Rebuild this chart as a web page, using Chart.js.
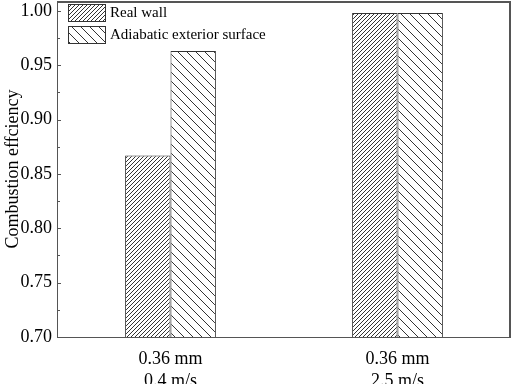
<!DOCTYPE html>
<html>
<head>
<meta charset="utf-8">
<script src="https://cdn.jsdelivr.net/npm/chart.js@4/dist/chart.umd.min.js"></script>
<style>
html,body{margin:0;padding:0;background:#fff;}
#wrap{width:512px;height:384px;position:relative;}
</style>
</head>
<body>
<div id="wrap"><canvas id="c" width="512" height="384"></canvas></div>
<script>
const categories = [['0.36 mm', '0.4 m/s'], ['0.36 mm', '2.5 m/s']];
const seriesNames = ['Real wall', 'Adiabatic exterior surface'];
const realWall = [0.867, 0.998];
const adiabatic = [0.963, 0.998];
const yMajorTicks = [0.70, 0.75, 0.80, 0.85, 0.90, 0.95, 1.00];
const yTitle = 'Combustion effciency';

Chart.defaults.font.family = "'Liberation Serif', 'DejaVu Serif', serif";
Chart.defaults.color = '#000';

function makeHatch(size, dir, lw, color) {
  const c = document.createElement('canvas');
  c.width = size; c.height = size;
  const g = c.getContext('2d');
  g.fillStyle = '#fff';
  g.fillRect(0, 0, size, size);
  g.strokeStyle = color;
  g.lineWidth = lw;
  g.beginPath();
  if (dir === '/') {
    g.moveTo(-1, size + 1); g.lineTo(size + 1, -1);
    g.moveTo(-1, 1); g.lineTo(1, -1);
    g.moveTo(size - 1, size + 1); g.lineTo(size + 1, size - 1);
  } else {
    g.moveTo(-1, -1); g.lineTo(size + 1, size + 1);
    g.moveTo(size - 1, -1); g.lineTo(size + 1, 1);
    g.moveTo(-1, size - 1); g.lineTo(1, size + 1);
  }
  g.stroke();
  return g.createPattern(c, 'repeat');
}

const ctx = document.getElementById('c').getContext('2d');
const hatchA = makeHatch(4, '/', 1, '#333');
const hatchB = makeHatch(9, '\\', 1, '#333');

const framePlugin = {
  id: 'frame',
  afterDraw(chart) {
    const a = chart.chartArea;
    const g = chart.ctx;
    const y = chart.scales.y;
    const L = Math.round(a.left), R = Math.round(a.right) - 2;
    const T = Math.round(a.top), B = Math.round(a.bottom);
    g.save();
    g.fillStyle = '#555';
    g.fillRect(L, T, R - L + 2, 2);
    g.fillRect(L, B, R - L + 2, 1);
    g.fillRect(L, T, 1, B - T + 1);
    g.fillRect(R, T, 2, B - T + 1);
    // inward ticks: major and minor
    for (let i = 0; i < yMajorTicks.length; i++) {
      const py = Math.round(y.getPixelForValue(yMajorTicks[i]));
      g.fillRect(L, py, 4, 1);
      if (i < yMajorTicks.length - 1) {
        const mv = (yMajorTicks[i] + yMajorTicks[i + 1]) / 2;
        const pm = Math.round(y.getPixelForValue(mv));
        g.fillRect(L, pm, 3, 1);
      }
    }
    // legend inside plot
    const ds = chart.data.datasets;
    const boxX = 68, boxW = 37, boxH = 17;
    const rowsY = [4, 26];
    g.font = "15px 'Liberation Serif'";
    g.textBaseline = 'middle';
    g.textAlign = 'left';
    for (let i = 0; i < ds.length; i++) {
      const by = rowsY[i];
      g.fillStyle = ds[i].backgroundColor;
      g.fillRect(boxX, by, boxW, boxH);
      g.strokeStyle = '#333';
      g.lineWidth = 1;
      g.strokeRect(boxX + 0.5, by + 0.5, boxW, boxH);
      g.fillStyle = '#000';
      g.fillText(ds[i].label, boxX + boxW + 5, by + boxH / 2 + 1);
    }
    g.restore();
  }
};

new Chart(ctx, {
  type: 'bar',
  data: {
    labels: categories,
    datasets: [
      { label: seriesNames[0], data: realWall, backgroundColor: hatchA, borderColor: '#333', borderWidth: 1, borderSkipped: false },
      { label: seriesNames[1], data: adiabatic, backgroundColor: hatchB, borderColor: '#333', borderWidth: 1, borderSkipped: false }
    ]
  },
  options: {
    responsive: false,
    animation: false,
    devicePixelRatio: 1,
    layout: { padding: { top: 1, right: 1, left: 0, bottom: 0 } },
    datasets: { bar: { categoryPercentage: 0.4, barPercentage: 1.0 } },
    plugins: { legend: { display: false }, tooltip: { enabled: false } },
    scales: {
      x: {
        grid: { display: false, drawTicks: false },
        border: { display: false },
        ticks: { font: { size: 18, lineHeight: 1.25 }, padding: 11, color: '#000', maxRotation: 0 },
        afterFit(s) { s.height = 47; s.paddingLeft = 0; s.paddingRight = 0; }
      },
      y: {
        min: 0.70,
        max: 1.009,
        grid: { display: false, drawTicks: false },
        border: { display: false },
        afterBuildTicks(s) { s.ticks = yMajorTicks.map(v => ({ value: v })); },
        ticks: { font: { size: 18 }, padding: 5, color: '#000', callback: v => Number(v).toFixed(2) },
        title: { display: true, text: yTitle, font: { size: 18 }, color: '#000', padding: { top: 2, bottom: 0 } },
        afterFit(s) { s.width = 57; s.paddingTop = 0; s.paddingBottom = 0; }
      }
    }
  },
  plugins: [framePlugin]
});
</script>
</body>
</html>
